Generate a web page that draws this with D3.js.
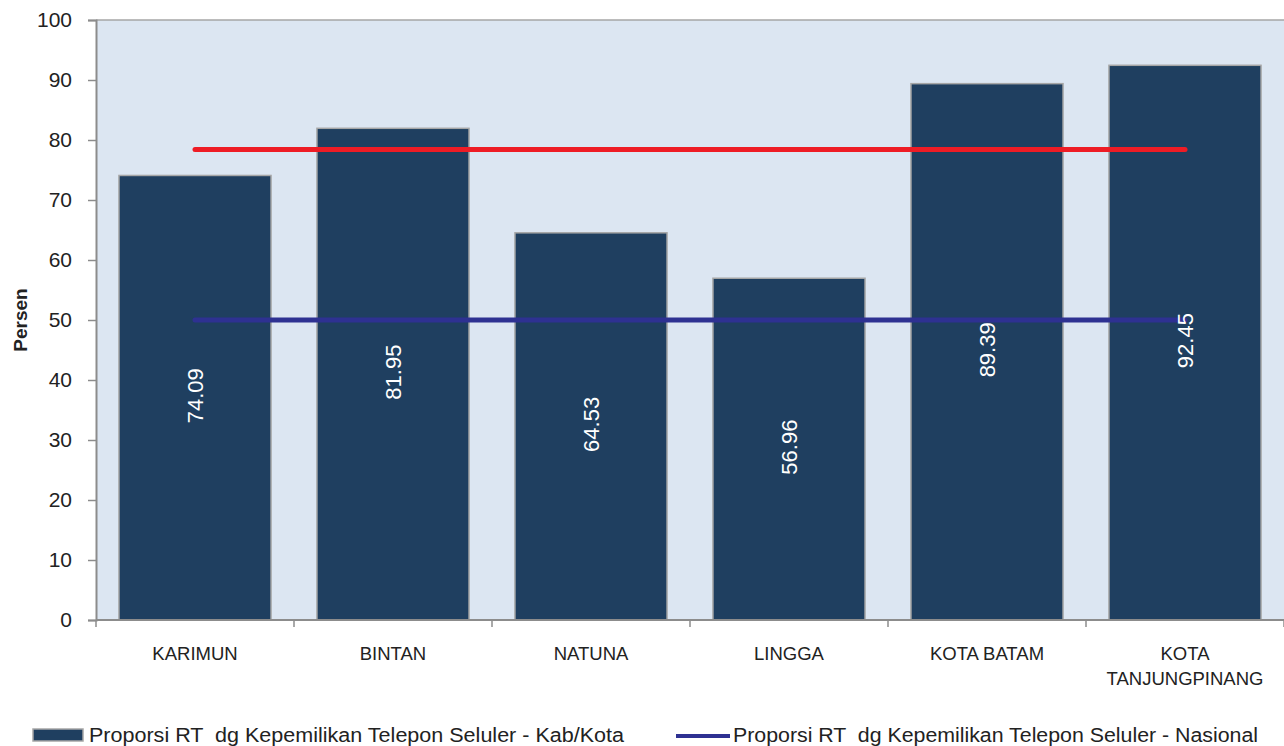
<!DOCTYPE html>
<html><head><meta charset="utf-8">
<script src="https://cdn.jsdelivr.net/npm/d3@7"></script>
<style>body{margin:0;background:#fff}svg{display:block}text{font-family:"Liberation Sans",Arial,sans-serif;white-space:pre}</style>
</head><body><svg id="c" width="1284" height="746"></svg>
<script>
const categories = [["KARIMUN"],["BINTAN"],["NATUNA"],["LINGGA"],["KOTA BATAM"],["KOTA","TANJUNGPINANG"]];
const barValues = [74.09, 81.95, 64.53, 56.96, 89.39, 92.45];
const barLabels = ["74.09","81.95","64.53","56.96","89.39","92.45"];
const redLineValue = 78.4;
const nasionalValue = 50;
const yTicks = [0,10,20,30,40,50,60,70,80,90,100];
const legendLabels = ["Proporsi RT  dg Kepemilikan Telepon Seluler - Kab/Kota","Proporsi RT  dg Kepemilikan Telepon Seluler - Nasional"];

const svg = d3.select("#c");
const L = 96, R = 1284, T = 20, B = 620;
const keys = categories.map((c,i)=>i);
const x = d3.scaleBand().domain(keys).range([L,R]).paddingInner(0.232).paddingOuter(0.116);
const y = d3.scaleLinear().domain([0,100]).range([B,T]);

svg.append("rect").attr("x",L).attr("y",T).attr("width",R-L).attr("height",B-T).attr("fill","#dce6f2");
svg.append("line").attr("x1",L).attr("x2",R).attr("y1",T).attr("y2",T).attr("stroke","#a6a6a6").attr("stroke-width",1.5);

// y axis
const ya = svg.append("g").attr("transform",`translate(${L},0)`)
  .call(d3.axisLeft(y).tickValues(yTicks).tickSize(8).tickPadding(16));
ya.select(".domain").attr("stroke","#8c8c8c").attr("stroke-width",2);
ya.selectAll(".tick line").attr("stroke","#8c8c8c").attr("stroke-width",1.5);
ya.selectAll(".tick text").attr("font-size",21).attr("fill","#222");

// bars
svg.selectAll("rect.bar").data(barValues).enter().append("rect").attr("class","bar")
  .attr("x",(d,i)=>x(i)).attr("width",x.bandwidth())
  .attr("y",d=>y(d)).attr("height",d=>B-y(d))
  .attr("fill","#1f3f60").attr("stroke","#a6a6a6").attr("stroke-width",1.5);

// x axis
const step = x.step();
const xa = svg.append("g");
xa.append("line").attr("x1",L).attr("x2",R).attr("y1",B).attr("y2",B).attr("stroke","#8c8c8c").attr("stroke-width",2);
d3.range(categories.length+1).forEach(i=>{
  xa.append("line").attr("x1",L+i*step).attr("x2",L+i*step).attr("y1",B).attr("y2",B+7).attr("stroke","#8c8c8c").attr("stroke-width",1.5);
});
categories.forEach((c,i)=>{
  const t = svg.append("text").attr("x",x(i)+x.bandwidth()/2).attr("y",660).attr("text-anchor","middle")
    .attr("font-size",18.5).attr("fill","#222");
  c.forEach((ln,j)=>t.append("tspan").attr("x",x(i)+x.bandwidth()/2).attr("dy",j?25:0).text(ln));
});

// lines
const cx = i => x(i)+x.bandwidth()/2;
const n = categories.length;
svg.append("line").attr("x1",cx(0)).attr("x2",cx(n-1)).attr("y1",y(redLineValue)).attr("y2",y(redLineValue))
  .attr("stroke","#ee1c25").attr("stroke-width",5).attr("stroke-linecap","round");
svg.append("line").attr("x1",cx(0)).attr("x2",cx(n-1)).attr("y1",y(nasionalValue)).attr("y2",y(nasionalValue))
  .attr("stroke","#2e3192").attr("stroke-width",5).attr("stroke-linecap","round");

// value labels
barValues.forEach((v,i)=>{
  const my = (y(v)+B)/2 - 2;
  svg.append("text").attr("transform",`translate(${cx(i)+8},${my}) rotate(-90)`).attr("text-anchor","middle")
    .attr("font-size",22).attr("fill","#fff").text(barLabels[i]);
});

// y title
svg.append("text").attr("transform","translate(27,320) rotate(-90)").attr("text-anchor","middle")
  .attr("font-size",19).attr("font-weight","bold").attr("fill","#222").text("Persen");

// legend
svg.append("rect").attr("x",33).attr("y",729).attr("width",50).attr("height",12).attr("fill","#1f3f60").attr("stroke","#a6a6a6").attr("stroke-width",1.5);
svg.append("text").attr("x",89).attr("y",742).attr("font-size",19.5).attr("fill","#222")
  .attr("textLength",535).attr("lengthAdjust","spacingAndGlyphs").text(legendLabels[0]);
svg.append("line").attr("x1",676).attr("x2",730).attr("y1",736).attr("y2",736).attr("stroke","#2e3192").attr("stroke-width",4);
svg.append("text").attr("x",733).attr("y",742).attr("font-size",19.5).attr("fill","#222")
  .attr("textLength",525).attr("lengthAdjust","spacingAndGlyphs").text(legendLabels[1]);
</script></body></html>
